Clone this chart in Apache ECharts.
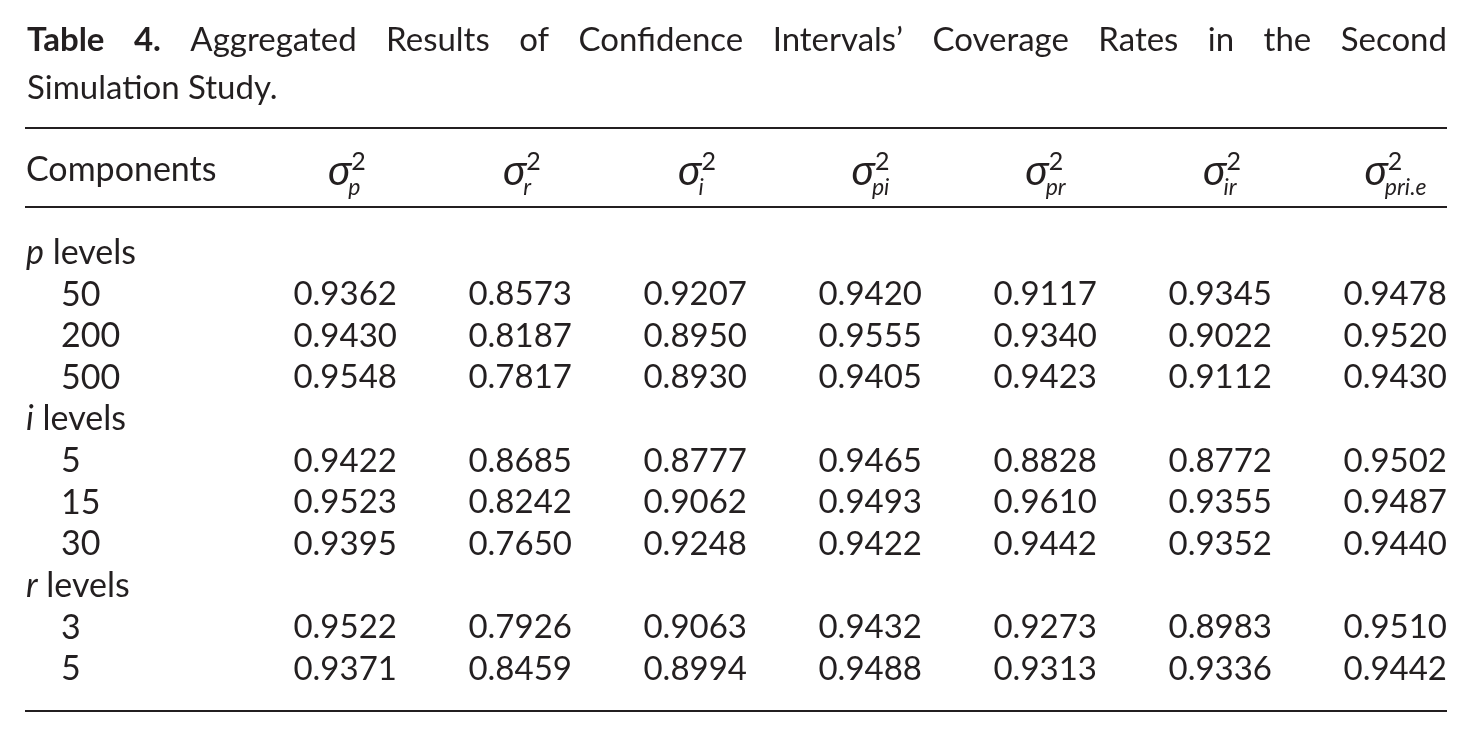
<!DOCTYPE html>
<html>
<head>
<meta charset="utf-8">
<script src="https://cdn.jsdelivr.net/npm/echarts@6/dist/echarts.min.js"></script>
<style>
html, body { margin: 0; padding: 0; background: #fff; }
#main { width: 1473px; height: 737px; }
</style>
</head>
<body>
<div id="main"></div>
<script>
// table data
var titleBold = ['Table', '4.'];
var titleWords = ['Aggregated', 'Results', 'of', 'Confidence', 'Intervals\u2019', 'Coverage', 'Rates', 'in', 'the', 'Second'];
var titleLine2 = 'Simulation Study.';
var firstHeader = 'Components';
var columnSubs = ['p', 'r', 'i', 'pi', 'pr', 'ir', 'pri.e'];
var factorNames = ['p', 'i', 'r'];
var pLevels = ['50', '200', '500'];
var iLevels = ['5', '15', '30'];
var rLevels = ['3', '5'];
// one array per column, rows: p50 p200 p500 i5 i15 i30 r3 r5
var sigmaP   = [0.9362, 0.9430, 0.9548, 0.9422, 0.9523, 0.9395, 0.9522, 0.9371];
var sigmaR   = [0.8573, 0.8187, 0.7817, 0.8685, 0.8242, 0.7650, 0.7926, 0.8459];
var sigmaI   = [0.9207, 0.8950, 0.8930, 0.8777, 0.9062, 0.9248, 0.9063, 0.8994];
var sigmaPI  = [0.9420, 0.9555, 0.9405, 0.9465, 0.9493, 0.9422, 0.9432, 0.9488];
var sigmaPR  = [0.9117, 0.9340, 0.9423, 0.8828, 0.9610, 0.9442, 0.9273, 0.9313];
var sigmaIR  = [0.9345, 0.9022, 0.9112, 0.8772, 0.9355, 0.9352, 0.8983, 0.9336];
var sigmaPRI = [0.9478, 0.9520, 0.9430, 0.9502, 0.9487, 0.9440, 0.9510, 0.9442];
var ruleRows = [-3, -1.1, 11];

var columnValues = [sigmaP, sigmaR, sigmaI, sigmaPI, sigmaPR, sigmaIR, sigmaPRI];
var levelSets = [pLevels, iLevels, rLevels];

var ink = '#231f20';
var family = 'Lato';
var labelSize = 34;
var valueSize = 33;
var titleSize = 33;
var xMin = -2.125, xMax = 6;

var ctx = document.createElement('canvas').getContext('2d');
function textWidth(t, font) { ctx.font = font; return ctx.measureText(t).width; }

// build cells
var cells = [];
cells.push({ kind: 'label', row: -2, text: firstHeader });
columnSubs.forEach(function (s, k) { cells.push({ kind: 'head', col: k, row: -2, sub: s }); });
var row = 0, offset = 0;
factorNames.forEach(function (f, g) {
    cells.push({ kind: 'group', row: row, sym: f });
    row++;
    levelSets[g].forEach(function (lv, j) {
        cells.push({ kind: 'level', row: row, text: lv });
        columnValues.forEach(function (arr, k) {
            cells.push({ kind: 'value', col: k, row: row, text: arr[offset + j].toFixed(4) });
        });
        row++;
    });
    offset += levelSets[g].length;
});
var cellData = cells.map(function (c, i) { return [c.col == null ? xMin : c.col, c.row, i]; });

function renderCell(params, api) {
    var c = cells[api.value(2)];
    var p = api.coord([api.value(0), api.value(1)]);
    var base = { fill: ink, fontFamily: family, fontSize: labelSize, verticalAlign: 'middle' };
    if (c.kind === 'value') {
        return { type: 'text', x: p[0], y: p[1], style: Object.assign({}, base, { text: c.text, fontSize: valueSize, align: 'right' }) };
    }
    if (c.kind === 'label') {
        return { type: 'text', x: p[0] + 1, y: p[1], style: Object.assign({}, base, { text: c.text, align: 'left' }) };
    }
    if (c.kind === 'level') {
        return { type: 'text', x: p[0] + 36, y: p[1], style: Object.assign({}, base, { text: c.text, align: 'left' }) };
    }
    if (c.kind === 'group') {
        return { type: 'text', x: p[0] + 1, y: p[1], style: Object.assign({}, base, {
            text: '{it|' + c.sym + '} levels', align: 'left',
            rich: { it: { fontStyle: 'italic', fontFamily: family, fontSize: labelSize, fill: ink } }
        }) };
    }
    // header: sigma with superscript 2 and subscript
    var sigSize = 42, supSize = 25, subSize = 23;
    var sw = textWidth('\u03c3', 'italic ' + sigSize + 'px ' + family);
    var subW = textWidth(c.sub, 'italic ' + subSize + 'px ' + family);
    var supW = textWidth('2', supSize + 'px ' + family);
    var total = sw + Math.max(subW, supW);
    var left = p[0] - 50 - total / 2;
    return {
        type: 'group',
        children: [
            { type: 'text', x: left, y: p[1] + 2, style: Object.assign({}, base, { text: '\u03c3', fontSize: sigSize, fontStyle: 'italic', align: 'left' }) },
            { type: 'text', x: left + sw, y: p[1] - 8, style: Object.assign({}, base, { text: '2', fontSize: supSize, align: 'left' }) },
            { type: 'text', x: left + sw - 3, y: p[1] + 18, style: Object.assign({}, base, { text: c.sub, fontSize: subSize, fontStyle: 'italic', align: 'left' }) }
        ]
    };
}

function renderRule(params, api) {
    var y = api.value(0);
    var a = api.coord([xMin, y]);
    var b = api.coord([xMax, y]);
    return { type: 'line', shape: { x1: a[0], y1: a[1], x2: b[0], y2: b[1] }, style: { stroke: ink, lineWidth: 2 } };
}

// justified first title line
var gridLeft = 25, gridRight = 26;
var lineStart = 27, lineEnd = 1447;
var boldFont = 'bold ' + titleSize + 'px ' + family;
var normFont = titleSize + 'px ' + family;
var words = titleBold.map(function (w) { return { t: w, bold: true }; })
    .concat(titleWords.map(function (w) { return { t: w, bold: false }; }));
var sumW = 0;
words.forEach(function (w) { w.w = textWidth(w.t, w.bold ? boldFont : normFont); sumW += w.w; });
var gap = (lineEnd - lineStart - sumW) / (words.length - 1);
var graphics = [];
var cx = lineStart;
words.forEach(function (w) {
    graphics.push({ type: 'text', x: cx, y: 40, style: {
        text: w.t, fill: ink, fontFamily: family, fontSize: titleSize,
        fontWeight: w.bold ? 'bold' : 'normal', verticalAlign: 'middle', align: 'left'
    } });
    cx += w.w + gap;
});
graphics.push({ type: 'text', x: lineStart, y: 88, style: {
    text: titleLine2, fill: ink, fontFamily: family, fontSize: titleSize, verticalAlign: 'middle', align: 'left'
} });

var chart = echarts.init(document.getElementById('main'));
chart.setOption({
    backgroundColor: '#fff',
    animation: false,
    graphic: graphics,
    grid: { left: gridLeft, right: gridRight, top: 128, bottom: 26 },
    xAxis: { type: 'value', min: xMin, max: xMax, show: false },
    yAxis: { type: 'value', min: -3, max: 11, inverse: true, show: false },
    series: [
        { type: 'custom', renderItem: renderRule, data: ruleRows.map(function (r) { return [r]; }), encode: { y: 0 }, silent: true, clip: false },
        { type: 'custom', renderItem: renderCell, data: cellData, encode: { x: 0, y: 1 }, silent: true, clip: false }
    ]
});
</script>
</body>
</html>
